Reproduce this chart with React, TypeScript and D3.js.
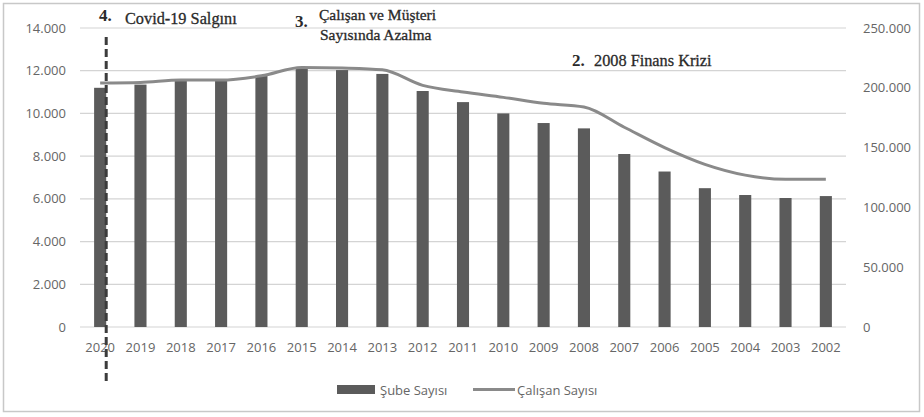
import React from "react";
import * as d3 from "d3";

const years = ["2020","2019","2018","2017","2016","2015","2014","2013","2012","2011","2010","2009","2008","2007","2006","2005","2004","2003","2002"];
const subeSayisi = [11200,11350,11550,11550,11750,12080,12030,11850,11050,10530,10000,9550,9300,8100,7280,6500,6180,6040,6130];
const calisanSayisi = [204000,204500,206500,206500,210000,217000,216500,215000,202000,196500,192000,187000,184000,167000,150000,136000,127000,123500,123500];
const leftTicks = [0,2000,4000,6000,8000,10000,12000,14000];
const rightTicks = [0,50000,100000,150000,200000,250000];

const W = 924, H = 417;
const M = { left: 80, right: 846, top: 28, bottom: 327 };
const fmt = (v: number) => (v === 0 ? "0" : d3.format(",")(v).replace(/,/g, "."));

export default function App() {
  const x = d3.scaleBand<string>().domain(years).range([M.left, M.right]).paddingInner(0.7).paddingOuter(0.35);
  const yL = d3.scaleLinear().domain([0, 14000]).range([M.bottom, M.top]);
  const yR = d3.scaleLinear().domain([0, 250000]).range([M.bottom, M.top]);
  const bw = x.bandwidth();
  const line = d3.line<number>()
    .x((_, i) => (x(years[i]) as number) + bw / 2)
    .y((d) => yR(d))
    .curve(d3.curveMonotoneX);
  const axisFont = "'Open Sans', 'Noto Sans', sans-serif";
  const serif = "'Liberation Serif', 'DejaVu Serif', serif";
  const dashX = (x("2020") as number) + bw;
  return (
    <svg width={W} height={H} style={{ position: "absolute", left: 0, top: 0, background: "#fff" }}>
      <rect x={3.5} y={3.5} width={916} height={408} fill="#fff" stroke="#c8c8c8" strokeWidth={1.5} />
      {leftTicks.map((t) => (
        <g key={"l" + t}>
          <line x1={M.left} x2={M.right} y1={yL(t)} y2={yL(t)} stroke="#d4d4d4" strokeWidth={1.2} />
          <text x={66} y={yL(t)} dy="0.35em" textAnchor="end" fontFamily={axisFont} fontSize={13} fill="#666">{fmt(t)}</text>
        </g>
      ))}
      {rightTicks.map((t) => (
        <text key={"r" + t} x={863} y={yR(t)} dy="0.35em" textAnchor="start" fontFamily={axisFont} fontSize={13} fill="#666">{fmt(t)}</text>
      ))}
      {years.map((yr, i) => (
        <rect key={yr} x={x(yr)} y={yL(subeSayisi[i])} width={bw} height={yL(0) - yL(subeSayisi[i])} fill="#5b5b5b" />
      ))}
      <path d={line(calisanSayisi) || ""} fill="none" stroke="#8a8a8a" strokeWidth={3} />
      {years.map((yr) => (
        <text key={"x" + yr} x={(x(yr) as number) + bw / 2} y={347} dy="0.35em" textAnchor="middle" fontFamily={axisFont} fontSize={13} fill="#666">{yr}</text>
      ))}
      <line x1={dashX} x2={dashX} y1={37} y2={384} stroke="#3c3c3c" strokeWidth={3} strokeDasharray="8,4" />
      {/* annotations */}
      <text x={99} y={21} fontFamily={serif} fontSize={17} fontWeight="bold" fill="#2a2a2a">4.</text>
      <text x={125} y={24} fontFamily={serif} fontSize={16.3} fill="#2a2a2a" stroke="#2a2a2a" strokeWidth={0.3}>Covid-19 Salgını</text>
      <text x={295} y={27} fontFamily={serif} fontSize={17} fontWeight="bold" fill="#2a2a2a">3.</text>
      <text x={319} y={20} fontFamily={serif} fontSize={15.5} fill="#2a2a2a" stroke="#2a2a2a" strokeWidth={0.3}>Çalışan ve Müşteri</text>
      <text x={320} y={40} fontFamily={serif} fontSize={15.5} fill="#2a2a2a" stroke="#2a2a2a" strokeWidth={0.3}>Sayısında Azalma</text>
      <text x={572} y={66} fontFamily={serif} fontSize={17} fontWeight="bold" fill="#2a2a2a">2.</text>
      <text x={594} y={66} fontFamily={serif} fontSize={16.3} fill="#2a2a2a" stroke="#2a2a2a" strokeWidth={0.3}>2008 Finans Krizi</text>
      {/* legend */}
      <rect x={337} y={385} width={38} height={9} fill="#5b5b5b" />
      <text x={380} y={390} dy="0.35em" fontFamily={axisFont} fontSize={13} fill="#666">Şube Sayısı</text>
      <line x1={473} x2={515} y1={389.5} y2={389.5} stroke="#8a8a8a" strokeWidth={3} />
      <text x={517} y={390} dy="0.35em" fontFamily={axisFont} fontSize={13} fill="#666">Çalışan Sayısı</text>
    </svg>
  );
}
